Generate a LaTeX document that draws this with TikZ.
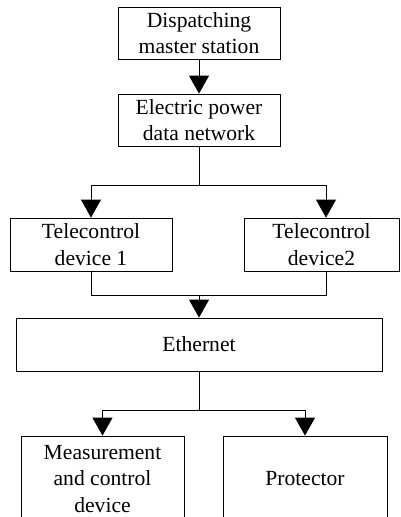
\documentclass[tikz,border=0pt]{standalone}
\usepackage{fontspec}
\setmainfont{Liberation Serif}
\usetikzlibrary{arrows.meta}
\begin{document}
\begin{tikzpicture}[x=1pt,y=-1pt,
  box/.style={draw, line width=0.8pt, align=center, font=\fontsize{21.6}{26.5}\selectfont, inner sep=0pt},
  link/.style={line width=0.8pt},
  arr/.style={link, -{Triangle[width=20pt,length=18pt]}}]
\useasboundingbox (0,0) rectangle (401,517);
\clip (0,0) rectangle (401,517);
\node[box, minimum width=162pt, minimum height=52pt] (ds) at (199,33) {Dispatching\\master station};
\node[box, minimum width=162pt, minimum height=52pt] (ep) at (199,120) {Electric power\\data network};
\node[box, minimum width=162pt, minimum height=53pt] (t1) at (91,244.5) {Telecontrol\\device 1};
\node[box, minimum width=155pt, minimum height=53pt] (t2) at (321.5,244.5) {Telecontrol\\device2};
\node[box, minimum width=366pt, minimum height=53pt] (eth) at (199,344.5) {Ethernet};
\node[box, minimum width=163pt, minimum height=86pt] (mc) at (102.5,479) {Measurement\\and control\\device};
\node[box, minimum width=164pt, minimum height=86pt] (pr) at (305,479) {Protector};
\draw[arr] (ds) -- (ep);
\draw[link] (ep.south) -- ++(0,39) coordinate (j1);
\draw[arr] (j1) -| (t1.north);
\draw[arr] (j1) -| ([xshift=4.5pt]t2.north);
\draw[link] (t1.south) -- ++(0,24) coordinate (j2) -| ([xshift=4.5pt]t2.south);
\draw[arr] (j2 -| eth.north) -- (eth.north);
\draw[link] (eth.south) -- ++(0,39) coordinate (j3);
\draw[arr] (j3) -| (mc.north);
\draw[arr] (j3) -| (pr.north);
\end{tikzpicture}
\end{document}
